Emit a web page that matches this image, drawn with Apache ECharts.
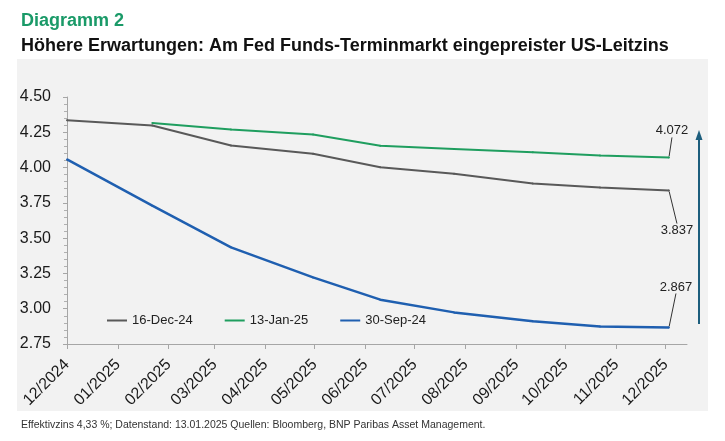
<!DOCTYPE html>
<html>
<head>
<meta charset="utf-8">
<script src="https://cdn.jsdelivr.net/npm/echarts@6/dist/echarts.min.js"></script>
<style>
  html, body { margin: 0; padding: 0; background: #fff; }
  #main { width: 725px; height: 441px; }
</style>
</head>
<body>
<div id="main"></div>
<script>
// Stützpunkte (Datum) und Kurven
var dates = ['2024-12-01', '2025-01-22', '2025-03-11', '2025-04-30', '2025-06-10',
             '2025-07-25', '2025-09-11', '2025-10-22', '2025-12-03'];
var dec16 = [4.335, 4.298, 4.157, 4.098, 4.003, 3.957, 3.887, 3.858, 3.837];
var jan13 = [null, 4.315, 4.270, 4.234, 4.154, 4.132, 4.108, 4.086, 4.072];
var sep30 = [4.058, 3.730, 3.435, 3.222, 3.064, 2.974, 2.912, 2.874, 2.867];
var seriesNames = ['16-Dec-24', '13-Jan-25', '30-Sep-24'];
var tickMonths = ['2024-12-01', '2025-01-01', '2025-02-01', '2025-03-01', '2025-04-01',
                  '2025-05-01', '2025-06-01', '2025-07-01', '2025-08-01', '2025-09-01',
                  '2025-10-01', '2025-11-01', '2025-12-01'];
var tickLabels = ['12/2024', '01/2025', '02/2025', '03/2025', '04/2025', '05/2025', '06/2025',
                  '07/2025', '08/2025', '09/2025', '10/2025', '11/2025', '12/2025'];
var yTicks = [2.75, 3.00, 3.25, 3.50, 3.75, 4.00, 4.25, 4.50];
var axisEnd = '2025-12-14';

var DAY = 86400000;
var t0 = ts(tickMonths[0]);

function ts(s) {
    var p = s.split('-');
    return Date.UTC(+p[0], +p[1] - 1, +p[2]);
}
// Tage seit 01.12.2024
function dayNo(s) {
    return Math.round((ts(s) - t0) / DAY);
}

function makeData(values) {
    var out = [];
    for (var i = 0; i < values.length; i++) {
        if (values[i] === null) continue;
        if (i === values.length - 1) {
            out.push({ value: [dayNo(dates[i]), values[i]], label: { show: true } });
        } else {
            out.push([dayNo(dates[i]), values[i]]);
        }
    }
    return out;
}

var tickValues = tickMonths.map(dayNo);
var fontFam = '"Liberation Sans", Arial, sans-serif';

var chart = echarts.init(document.getElementById('main'));

function lineSeries(name, values, color, width, dx, dy) {
    return {
        name: name,
        type: 'line',
        data: makeData(values),
        symbol: 'circle',
        symbolSize: 2,
        showSymbol: true,
        itemStyle: { color: color },
        lineStyle: { color: color, width: width },
        label: {
            show: false,
            position: 'top',
            distance: 0,
            fontSize: 13,
            fontFamily: fontFam,
            color: '#222',
            formatter: function (p) { return p.value[1].toFixed(3); }
        },
        labelLine: { show: true, lineStyle: { color: '#333', width: 1 } },
        labelLayout: { dx: dx, dy: dy },
        emphasis: { disabled: true },
        animation: false
    };
}

var option = {
    backgroundColor: '#fff',
    animation: false,
    textStyle: { fontFamily: fontFam },
    title: [
        {
            text: 'Diagramm 2',
            left: 16, top: 7,
            textStyle: { color: '#1a9a68', fontSize: 18, fontWeight: 'bold', fontFamily: fontFam }
        },
        {
            text: 'Höhere Erwartungen: Am Fed Funds-Terminmarkt eingepreister US-Leitzins',
            left: 16, top: 32,
            textStyle: { color: '#111', fontSize: 18, fontWeight: 'bold', fontFamily: fontFam }
        },
        {
            text: 'Effektivzins 4,33 %; Datenstand: 13.01.2025 Quellen: Bloomberg, BNP Paribas Asset Management.',
            left: 16, top: 415,
            textStyle: { color: '#333', fontSize: 10.5, fontWeight: 'normal', fontFamily: fontFam }
        }
    ],
    graphic: [
        {
            type: 'rect', z: -10, silent: true,
            shape: { x: 17, y: 59, width: 691, height: 352 },
            style: { fill: '#f2f2f2' }
        },
        {
            type: 'line', silent: true,
            shape: { x1: 699, y1: 324, x2: 699, y2: 138 },
            style: { stroke: '#1d5e7d', lineWidth: 2 }
        },
        {
            type: 'polygon', silent: true,
            shape: { points: [[699, 130], [695.5, 140], [702.5, 140]] },
            style: { fill: '#1d5e7d' }
        }
    ],
    legend: {
        data: seriesNames,
        left: 107, top: 314,
        padding: 0,
        icon: 'rect',
        itemWidth: 20, itemHeight: 2,
        itemGap: 32,
        textStyle: { fontSize: 13, color: '#222', fontFamily: fontFam }
    },
    grid: { left: 67, right: 38, top: 97, bottom: 97, containLabel: false },
    xAxis: {
        type: 'value',
        min: 0,
        max: dayNo(axisEnd),
        axisLine: { show: true, lineStyle: { color: '#a6a6a6', width: 1 } },
        axisTick: { show: true, length: 5, customValues: tickValues, lineStyle: { color: '#a6a6a6' } },
        splitLine: { show: false },
        axisLabel: {
            customValues: tickValues,
            rotate: 45,
            margin: 18,
            fontSize: 16,
            color: '#1a1a1a',
            fontFamily: fontFam,
            formatter: function (v) {
                var i = tickValues.indexOf(v);
                return i >= 0 ? tickLabels[i] : '';
            }
        }
    },
    yAxis: {
        type: 'value',
        min: yTicks[0],
        max: yTicks[yTicks.length - 1],
        interval: 0.25,
        axisLine: { show: true, lineStyle: { color: '#a6a6a6', width: 1 } },
        axisTick: { show: true, length: 4, lineStyle: { color: '#a6a6a6' } },
        minorTick: { show: true, splitNumber: 5, length: 3, lineStyle: { color: '#b0b0b0' } },
        splitLine: { show: false },
        axisLabel: {
            margin: 16,
            fontSize: 16,
            color: '#1a1a1a',
            fontFamily: fontFam,
            formatter: function (v) { return v.toFixed(2); }
        }
    },
    series: [
        lineSeries(seriesNames[0], dec16, '#595959', 2, 8, 47),
        lineSeries(seriesNames[1], jan13, '#1f9e5f', 2, 3, -19),
        lineSeries(seriesNames[2], sep30, '#1f5fb0', 2.5, 7, -33)
    ]
};

chart.setOption(option);
</script>
</body>
</html>
